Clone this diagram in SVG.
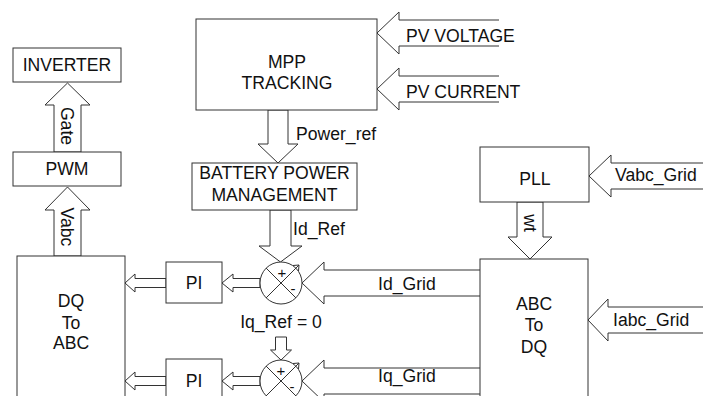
<svg xmlns="http://www.w3.org/2000/svg" width="703" height="396" viewBox="0 0 703 396">
<style>
.box{fill:#fff;stroke:#333;stroke-width:1}
.ar{fill:#fff;stroke:#333;stroke-width:1;stroke-linejoin:miter}
.ln{fill:none;stroke:#333;stroke-width:1}
text{font-family:"Liberation Sans",Arial,sans-serif;font-size:17.6px;fill:#111}
.c{text-anchor:middle}
.s{font-size:15px}
</style>
<rect width="703" height="396" fill="#fff"/>
<g id="connectors">
<polygon class="ar" points="54,152 54,105 45,105 67.5,83 90,105 81,105 81,152"/>
<polygon class="ar" points="54,256 54,210 45,210 67.5,187 90,210 81,210 81,256"/>
<polygon class="ar" points="268,110 268,144 258,144 278,163 298,144 288,144 288,110"/>
<polygon class="ar" points="270,210 270,246 259,246 280.5,262 302,246 291,246 291,210"/>
<polyline class="ar" points="499,20 399,20 399,12 377,33 399,54 399,46 499,46"/>
<polyline class="ar" points="499,76 399,76 399,68 377,89 399,110 399,102 499,102"/>
<polyline class="ar" points="703,163 611,163 611,155 589,176 611,197 611,189 703,189"/>
<polygon class="ar" points="517,202 517,237 508,237 530,259 552,237 543,237 543,202"/>
<polyline class="ar" points="703,307 608,307 608,299 588,320 608,341 608,333 703,333"/>
<polyline class="ar" points="480,270 324,270 324,262 302,283 324,304 324,296 480,296"/>
<polyline class="ar" points="480,368 324,368 324,360 302,381 324,402 324,394 480,394"/>
<polygon class="ar" points="260,278.5 233,278.5 233,274 222,283 233,292 233,287.5 260,287.5"/>
<polygon class="ar" points="166,278.5 135,278.5 135,274 125,283 135,292 135,287.5 166,287.5"/>
<polygon class="ar" points="260,376.5 233,376.5 233,372 222,381 233,390 233,385.5 260,385.5"/>
<polygon class="ar" points="166,376.5 135,376.5 135,372 125,381 135,390 135,385.5 166,385.5"/>
<polygon class="ar" points="275.5,337 275.5,350 270.5,350 281,360 291.5,350 286.5,350 286.5,337"/>
<text transform="translate(67,126) rotate(90)" class="c" y="6.5">Gate</text>
<text transform="translate(67,227) rotate(90)" class="c" y="6.5">Vabc</text>
<text transform="translate(530,223) rotate(90)" class="c" y="6.5">wt</text>
<text x="296" y="140">Power_ref</text>
<text x="293" y="235">Id_Ref</text>
<text x="406" y="41.5">PV VOLTAGE</text>
<text x="406" y="98">PV CURRENT</text>
<text x="615" y="181">Vabc_Grid</text>
<text x="613" y="326">Iabc_Grid</text>
<text x="378" y="290">Id_Grid</text>
<text x="378" y="382">Iq_Grid</text>
<text x="281" y="328" class="c">Iq_Ref = 0</text>
</g>
<g id="inverter"><rect class="box" x="13" y="48" width="108" height="34"/><text x="67" y="71" class="c">INVERTER</text></g>
<g id="pwm"><rect class="box" x="13" y="152" width="108" height="34"/><text x="67" y="175" class="c">PWM</text></g>
<g id="mpp"><rect class="box" x="196" y="19" width="181" height="91"/><text x="287" y="68" class="c">MPP</text><text x="287" y="89" class="c">TRACKING</text></g>
<g id="bpm"><rect class="box" x="192" y="163" width="165" height="47"/><text x="274.5" y="179" class="c">BATTERY POWER</text><text x="274.5" y="201" class="c">MANAGEMENT</text></g>
<g id="pll"><rect class="box" x="480" y="147" width="109" height="55"/><text x="535" y="185" class="c">PLL</text></g>
<g id="dq2abc"><rect class="box" x="17" y="256" width="108" height="150"/><text x="71" y="306.5" class="c">DQ</text><text x="71" y="329" class="c">To</text><text x="71" y="349" class="c">ABC</text></g>
<g id="abc2dq"><rect class="box" x="480" y="259" width="108" height="150"/><text x="534" y="310" class="c">ABC</text><text x="534" y="331" class="c">To</text><text x="534" y="353" class="c">DQ</text></g>
<g id="pi1"><rect class="box" x="166" y="262" width="56" height="41"/><text x="194" y="289" class="c">PI</text></g>
<g id="pi2"><rect class="box" x="166" y="359" width="56" height="41"/><text x="194" y="387" class="c">PI</text></g>
<g id="sum1"><circle class="box" cx="281" cy="283" r="21"/><path class="ln" d="M266,268 L296,298 M266,298 L299,265 M293,265.5 L299,265 L298.5,271"/><text x="282" y="278" class="c s">+</text><text x="293" y="294" class="c s">-</text></g>
<g id="sum2"><circle class="box" cx="281" cy="381" r="21"/><path class="ln" d="M266,366 L296,396 M266,396 L299,363 M293,363.5 L299,363 L298.5,369"/><text x="281" y="376" class="c s">+</text><text x="292" y="392" class="c s">-</text></g>
</svg>
